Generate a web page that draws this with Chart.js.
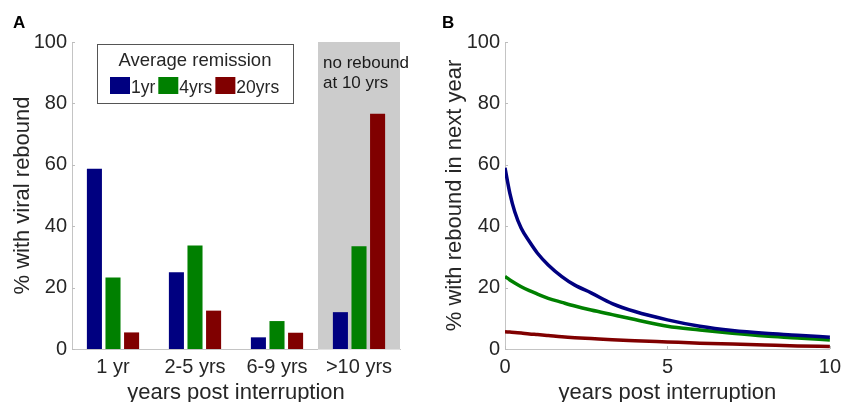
<!DOCTYPE html>
<html>
<head>
<meta charset="utf-8">
<script src="https://cdn.jsdelivr.net/npm/chart.js@4/dist/chart.umd.min.js"></script>
<style>
  html, body { margin: 0; padding: 0; background: #fff; }
  #wrap { position: relative; width: 847px; height: 402px; overflow: hidden; }
  canvas { position: absolute; top: 0; }
  #panelA { left: 0; width: 420px; height: 402px; }
  #panelB { left: 420px; width: 427px; height: 402px; }
</style>
</head>
<body>
<div id="wrap">
  <canvas id="panelA" width="420" height="402"></canvas>
  <canvas id="panelB" width="427" height="402"></canvas>
</div>
<script>
// panel A: bars
const categories = ['1 yr', '2-5 yrs', '6-9 yrs', '>10 yrs'];
const remission1yr = [58.7, 25.0, 3.8, 12.0];
const remission4yrs = [23.3, 33.7, 9.1, 33.5];
const remission20yrs = [5.4, 12.5, 5.3, 76.6];
const seriesNames = ['1yr', '4yrs', '20yrs'];
const legendTitle = 'Average remission';
const shadeNote = ['no rebound', 'at 10 yrs'];

// panel B: curves
const yearsPost = [0, 0.15, 0.3, 0.5, 0.75, 1, 1.33, 1.75, 2.15, 2.65, 3.3, 4, 5, 6, 7, 8, 9, 10];
const curve1yr = [59, 50.7, 44.7, 39.3, 35, 31.2, 27.4, 23.6, 20.8, 18.3, 14.8, 12.2, 9.5, 7.4, 6, 5.1, 4.5, 3.8];
const curve4yrs = [23.6, 22.5, 21.5, 20.3, 19, 17.9, 16.5, 15.2, 14, 12.7, 11.2, 9.6, 7.4, 6.2, 5.1, 4.2, 3.6, 2.9];
const curve20yrs = [5.6, 5.5, 5.4, 5.2, 4.9, 4.7, 4.4, 4.0, 3.7, 3.4, 3.0, 2.7, 2.3, 1.9, 1.6, 1.3, 1.0, 0.8];

const yTicks = [0, 20, 40, 60, 80, 100];
const xTicksB = [0, 5, 10];

const FONT = '"Liberation Sans", Arial, Helvetica, sans-serif';
const colors = ['#000080', '#008000', '#800000'];
const textColor = '#262626';
const axisColor = '#c4c4c4';

// small inward tick marks + panel letter
function frame(letter) {
  return {
    id: 'frame' + letter,
    afterDraw(chart) {
      const { ctx, scales: { x, y } } = chart;
      ctx.save();
      ctx.strokeStyle = '#bdbdbd';
      ctx.lineWidth = 1;
      ctx.beginPath();
      y.ticks.forEach(t => {
        const py = Math.round(y.getPixelForValue(t.value)) + 0.5;
        ctx.moveTo(x.left, py);
        ctx.lineTo(x.left + 3, py);
      });
      if (x.type === 'linear') {
        x.ticks.forEach(t => {
          const px = Math.round(x.getPixelForValue(t.value)) + 0.5;
          ctx.moveTo(px, y.bottom);
          ctx.lineTo(px, y.bottom - 3);
        });
      }
      ctx.stroke();
      ctx.fillStyle = '#000';
      ctx.font = 'bold 17px ' + FONT;
      ctx.fillText(letter, letter === 'A' ? 13 : 22, 28);
      ctx.restore();
    }
  };
}

const shadePlugin = {
  id: 'shade',
  beforeDatasetsDraw(chart) {
    const { ctx, chartArea, scales: { x, y } } = chart;
    const half = (x.getPixelForValue(1) - x.getPixelForValue(0)) / 2;
    const left = x.getPixelForValue(3) - half;
    const top = y.getPixelForValue(100);
    const bottom = y.getPixelForValue(0);
    ctx.save();
    ctx.fillStyle = '#cccccc';
    ctx.fillRect(left, top, chartArea.right - left, bottom - top);
    ctx.strokeStyle = '#e2e2e2';
    ctx.beginPath();
    ctx.moveTo(left, Math.round(bottom) + 0.5);
    ctx.lineTo(chartArea.right, Math.round(bottom) + 0.5);
    ctx.stroke();
    ctx.fillStyle = '#1a1a1a';
    ctx.font = '17px ' + FONT;
    ctx.fillText(shadeNote[0], left + 5, 68);
    ctx.fillText(shadeNote[1], left + 5, 88);
    ctx.restore();
  }
};

const boxLegend = {
  id: 'boxLegend',
  afterDraw(chart) {
    const { ctx } = chart;
    const bx = 97, by = 44, bw = 196, bh = 59;
    ctx.save();
    ctx.fillStyle = '#fff';
    ctx.fillRect(bx, by, bw, bh);
    ctx.strokeStyle = '#555';
    ctx.lineWidth = 1;
    ctx.strokeRect(bx + 0.5, by + 0.5, bw, bh);
    ctx.fillStyle = textColor;
    ctx.font = '18.5px ' + FONT;
    ctx.textAlign = 'center';
    ctx.fillText(legendTitle, bx + bw / 2, 66);
    ctx.textAlign = 'left';
    ctx.font = '17.5px ' + FONT;
    let px = 110;
    chart.data.datasets.forEach(ds => {
      ctx.fillStyle = ds.backgroundColor;
      ctx.fillRect(px, 77, 20, 17);
      px += 21;
      ctx.fillStyle = textColor;
      ctx.fillText(ds.label, px, 93);
      px += ctx.measureText(ds.label).width + 3;
    });
    ctx.restore();
  }
};

Chart.defaults.font.family = FONT;
Chart.defaults.color = textColor;

new Chart(document.getElementById('panelA').getContext('2d'), {
  type: 'bar',
  data: {
    labels: categories,
    datasets: [
      { label: seriesNames[0], data: remission1yr, backgroundColor: colors[0] },
      { label: seriesNames[1], data: remission4yrs, backgroundColor: colors[1] },
      { label: seriesNames[2], data: remission20yrs, backgroundColor: colors[2] }
    ]
  },
  options: {
    responsive: false,
    animation: false,
    categoryPercentage: 0.68,
    barPercentage: 0.81,
    layout: { padding: { left: 0, right: 20, top: 42, bottom: 0 } },
    plugins: { legend: { display: false }, tooltip: { enabled: false } },
    scales: {
      x: {
        grid: { display: false, drawTicks: false },
        border: { display: true, color: axisColor },
        ticks: { font: { size: 20 }, padding: 6, color: textColor },
        title: { display: true, text: 'years post interruption', font: { size: 22 }, padding: { top: 0, bottom: -4 }, color: textColor },
        afterFit(s) { s.height = 53; }
      },
      y: {
        min: 0, max: 100,
        afterBuildTicks(s) { s.ticks = yTicks.map(v => ({ value: v })); },
        grid: { display: false, drawTicks: false },
        border: { display: true, color: axisColor },
        ticks: { font: { size: 20 }, padding: 5, color: textColor },
        title: { display: true, text: '% with viral rebound', font: { size: 22 }, padding: { top: 10, bottom: 0 }, color: textColor },
        afterFit(s) { s.width = 72; }
      }
    }
  },
  plugins: [shadePlugin, boxLegend, frame('A')]
});

const toXY = arr => yearsPost.map((v, i) => ({ x: v, y: arr[i] }));

new Chart(document.getElementById('panelB').getContext('2d'), {
  type: 'line',
  data: {
    datasets: [
      { label: seriesNames[0], data: toXY(curve1yr), borderColor: colors[0] },
      { label: seriesNames[1], data: toXY(curve4yrs), borderColor: colors[1] },
      { label: seriesNames[2], data: toXY(curve20yrs), borderColor: colors[2] }
    ]
  },
  options: {
    responsive: false,
    animation: false,
    elements: {
      line: { borderWidth: 3.5, cubicInterpolationMode: 'monotone', fill: false },
      point: { radius: 0 }
    },
    layout: { padding: { left: 0, right: 11, top: 42, bottom: 0 } },
    plugins: { legend: { display: false }, tooltip: { enabled: false } },
    scales: {
      x: {
        type: 'linear', min: 0, max: 10,
        afterBuildTicks(s) { s.ticks = xTicksB.map(v => ({ value: v })); },
        grid: { display: false, drawTicks: false },
        border: { display: true, color: axisColor },
        ticks: { font: { size: 20 }, padding: 6, color: textColor },
        title: { display: true, text: 'years post interruption', font: { size: 22 }, padding: { top: 0, bottom: -4 }, color: textColor },
        afterFit(s) { s.height = 53; }
      },
      y: {
        min: 0, max: 100,
        afterBuildTicks(s) { s.ticks = yTicks.map(v => ({ value: v })); },
        grid: { display: false, drawTicks: false },
        border: { display: true, color: axisColor },
        ticks: { font: { size: 20 }, padding: 5, color: textColor },
        title: { display: true, text: '% with rebound in next year', font: { size: 22 }, padding: { top: 22, bottom: 0 }, color: textColor },
        afterFit(s) { s.width = 85; }
      }
    }
  },
  plugins: [frame('B')]
});
</script>
</body>
</html>
